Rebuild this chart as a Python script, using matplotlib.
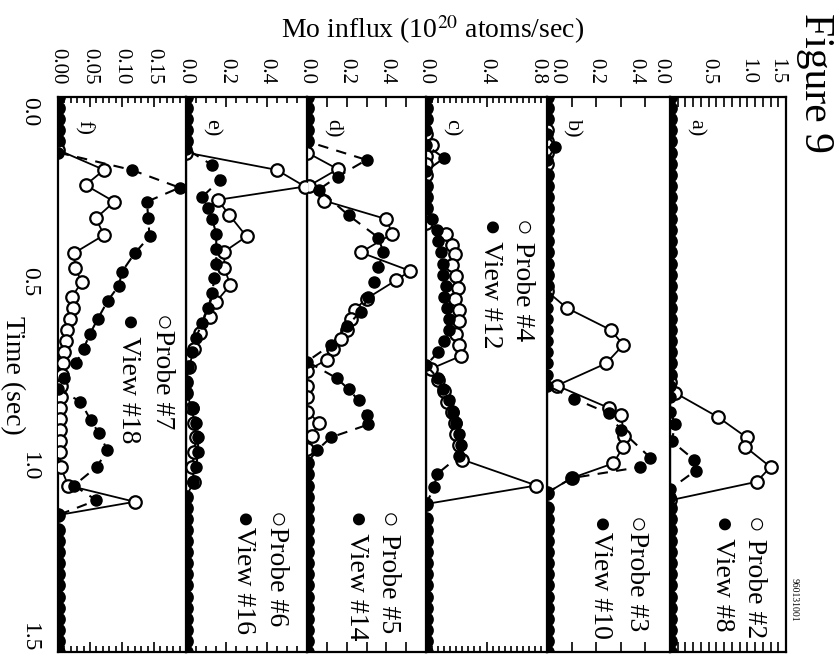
import numpy as np
import matplotlib
matplotlib.use('Agg')
import matplotlib.pyplot as plt
from matplotlib.ticker import MultipleLocator, FixedLocator

W, H = 834, 668
plt.rcParams['font.family'] = ['Liberation Serif', 'DejaVu Sans']
plt.rcParams['mathtext.fontset'] = 'stix'

# ---------------- data ----------------
T_GRID = np.round(np.arange(0.0, 1.5001, 0.03), 3)   # sampling times of the zero-level points

PANELS = ['a)', 'b)', 'c)', 'd)', 'e)', 'f)']
VMAX = [1.5, 0.5, 0.8, 0.6, 0.6, 0.2]
PROBE_LABELS = ['\u25cb Probe #2', '\u25cbProbe #3', '\u25cb Probe #4', '\u25cb Probe #5', '\u25cbProbe #6', '\u25cbProbe #7']
VIEW_LABELS = ['\u25cf View #8', '\u25cfView #10', '\u25cf View #12', '\u25cf View #14', '\u25cfView #16', '\u25cf View #18']

PROBE_A_T = [0.77, 0.80, 0.865, 0.92, 0.945, 1.00, 1.04, 1.09]
PROBE_A_V = [0.0, 0.07, 0.62, 0.99, 0.97, 1.30, 1.12, 0.0]
VIEW_A_T = [0.85, 0.885, 0.93, 0.98, 1.01, 1.06]
VIEW_A_V = [0.0, 0.07, 0.02, 0.31, 0.33, 0.0]

PROBE_B_T = [0.525, 0.57, 0.63, 0.67, 0.72, 0.78, 0.84, 0.86, 0.915, 0.945, 0.99, 1.03, 1.07]
PROBE_B_V = [0.0, 0.08, 0.26, 0.31, 0.24, 0.04, 0.25, 0.30, 0.315, 0.31, 0.27, 0.10, 0.0]
VIEW_B_T = [0.10, 0.135, 0.17, 0.78, 0.815, 0.855, 0.90, 0.975, 1.00, 1.03, 1.07]
VIEW_B_V = [0.0, 0.034, 0.0, 0.0, 0.11, 0.25, 0.30, 0.42, 0.38, 0.10, 0.0]

PROBE_C_T = [0.10, 0.13, 0.16, 0.34, 0.37, 0.40, 0.425, 0.455, 0.485, 0.515, 0.545, 0.575, 0.605,
             0.64, 0.67, 0.70, 0.735, 0.765, 0.795, 0.825, 0.85, 0.88, 0.91, 0.94, 0.98, 1.05, 1.10]
PROBE_C_V = [0.0, 0.04, 0.0, 0.0, 0.13, 0.17, 0.19, 0.17, 0.20, 0.21, 0.19, 0.22, 0.22,
             0.20, 0.22, 0.23, 0.03, 0.08, 0.12, 0.14, 0.17, 0.19, 0.20, 0.22, 0.24, 0.73, 0.0]
VIEW_C_T = [0.13, 0.165, 0.20, 0.30, 0.33, 0.36, 0.39, 0.42, 0.45, 0.48, 0.51, 0.54, 0.57, 0.60,
            0.63, 0.66, 0.69, 0.725, 0.76, 0.79, 0.82, 0.85, 0.88, 0.91, 0.94, 0.97, 1.02, 1.055, 1.10]
VIEW_C_V = [0.0, 0.12, 0.0, 0.0, 0.04, 0.07, 0.08, 0.10, 0.11, 0.11, 0.13, 0.12, 0.14, 0.155,
            0.155, 0.12, 0.08, 0.0, 0.08, 0.11, 0.155, 0.18, 0.20, 0.22, 0.23, 0.22, 0.07, 0.055, 0.0]

PROBE_D_T = [0.15, 0.195, 0.24, 0.28, 0.33, 0.37, 0.42, 0.47, 0.495, 0.545, 0.575, 0.60, 0.63,
             0.655, 0.68, 0.71, 0.74, 0.85, 0.88, 0.915, 0.95]
PROBE_D_V = [0.0, 0.155, 0.01, 0.085, 0.40, 0.43, 0.27, 0.52, 0.45, 0.30, 0.24, 0.22, 0.20,
             0.17, 0.13, 0.10, 0.0, 0.0, 0.06, 0.026, 0.0]
VIEW_D_T = [0.12, 0.17, 0.215, 0.25, 0.32, 0.38, 0.42, 0.46, 0.50, 0.54, 0.58, 0.62, 0.67, 0.715,
            0.76, 0.79, 0.82, 0.86, 0.885, 0.92, 0.955, 0.99]
VIEW_D_V = [0.0, 0.30, 0.155, 0.06, 0.21, 0.36, 0.385, 0.36, 0.34, 0.31, 0.27, 0.20, 0.12, 0.0,
            0.15, 0.21, 0.26, 0.30, 0.31, 0.12, 0.05, 0.0]

PROBE_E_T = [0.15, 0.197, 0.242, 0.278, 0.319, 0.377, 0.418, 0.463, 0.508, 0.553, 0.594, 0.638,
             0.68, 0.73, 0.77, 0.80, 0.84, 0.88, 0.92, 0.96, 1.00, 1.04, 1.08]
PROBE_E_V = [0.0, 0.45, 0.59, 0.157, 0.215, 0.30, 0.19, 0.19, 0.22, 0.15, 0.12, 0.07,
             0.04, 0.015, 0.0, 0.0, 0.03, 0.04, 0.05, 0.04, 0.03, 0.04, 0.0]
VIEW_E_T = [0.14, 0.184, 0.224, 0.27, 0.30, 0.33, 0.37, 0.41, 0.45, 0.49, 0.53, 0.57, 0.61, 0.65,
            0.69, 0.73, 0.77, 0.80, 0.84, 0.88, 0.92, 0.96, 1.00, 1.04, 1.08]
VIEW_E_V = [0.0, 0.13, 0.17, 0.08, 0.11, 0.13, 0.15, 0.15, 0.15, 0.14, 0.13, 0.11, 0.08, 0.05,
            0.03, 0.01, 0.0, 0.0, 0.035, 0.05, 0.06, 0.06, 0.05, 0.035, 0.0]

PROBE_F_T = [0.143, 0.197, 0.238, 0.283, 0.328, 0.373, 0.422, 0.463, 0.50, 0.54, 0.57, 0.60, 0.63,
             0.66, 0.69, 0.72, 0.75, 0.78, 0.81, 0.84, 0.87, 0.90, 0.93, 0.96, 1.00, 1.05, 1.094, 1.13]
PROBE_F_V = [0.0, 0.072, 0.043, 0.088, 0.059, 0.072, 0.025, 0.027, 0.037, 0.022, 0.024, 0.018, 0.014,
             0.012, 0.010, 0.008, 0.006, 0.005, 0.004, 0.003, 0.003, 0.003, 0.003, 0.003, 0.004, 0.016, 0.12, 0.0]
VIEW_F_T = [0.15, 0.197, 0.245, 0.283, 0.328, 0.377, 0.422, 0.472, 0.51, 0.55, 0.60, 0.64, 0.68,
            0.72, 0.76, 0.79, 0.823, 0.873, 0.909, 0.954, 0.999, 1.05, 1.09, 1.13]
VIEW_F_V = [0.0, 0.115, 0.19, 0.139, 0.141, 0.143, 0.12, 0.10, 0.095, 0.078, 0.062, 0.05, 0.04,
            0.028, 0.01, 0.0, 0.035, 0.051, 0.064, 0.077, 0.061, 0.025, 0.06, 0.0]

PROBES = [(PROBE_A_T, PROBE_A_V), (PROBE_B_T, PROBE_B_V), (PROBE_C_T, PROBE_C_V),
          (PROBE_D_T, PROBE_D_V), (PROBE_E_T, PROBE_E_V), (PROBE_F_T, PROBE_F_V)]
VIEWS = [(VIEW_A_T, VIEW_A_V), (VIEW_B_T, VIEW_B_V), (VIEW_C_T, VIEW_C_V),
         (VIEW_D_T, VIEW_D_V), (VIEW_E_T, VIEW_E_V), (VIEW_F_T, VIEW_F_V)]

TICK_POS = [[0, 0.5, 1.0, 1.5], [0, 0.2, 0.4], [0, 0.4, 0.8], [0, 0.2, 0.4], [0, 0.2, 0.4], [0, 0.05, 0.10, 0.15]]
TICK_LAB = [['0.0', '0.5', '1.0', '1.5'], ['0.0', '0.2', '0.4'], ['0.0', '0.4', '0.8'],
            ['0.0', '0.2', '0.4'], ['0.0', '0.2', '0.4'], ['0.00', '0.05', '0.10', '0.15']]
MINOR_STEP = [0.1, 0.1, 0.04, 0.1, 0.05, 0.01]
TIME_TICKS = [0.0, 0.5, 1.0, 1.5]
TIME_LABELS = ['0.0', '0.5', '1.0', '1.5']


def full_series(ts, vs):
    ts = np.asarray(ts, float)
    vs = np.asarray(vs, float)
    extra = []
    for g in T_GRID:
        if np.min(np.abs(ts - g)) < 0.014:
            continue
        inside = False
        for i in range(len(ts) - 1):
            if ts[i] < g < ts[i + 1] and (vs[i] > 0 or vs[i + 1] > 0):
                inside = True
                break
        if not inside:
            extra.append(g)
    t_all = np.concatenate([ts, extra])
    v_all = np.concatenate([vs, np.zeros(len(extra))])
    o = np.argsort(t_all)
    return t_all[o], v_all[o]


# ---------------- layout (pixels) ----------------
EDGES = {'a)': (670, 786), 'b)': (547, 670), 'c)': (426, 547),
         'd)': (307, 426), 'e)': (186, 307), 'f)': (58, 186)}
TOP, BOT = 97, 652
LEG = {'a)': (755, 722, 515), 'b)': (636, 601, 515), 'c)': (523, 490, 218),
       'd)': (388, 356, 510), 'e)': (277, 243, 510), 'f)': (162, 128, 313)}

fig = plt.figure(figsize=(W / 100, H / 100), dpi=100)


def fx(x):
    return x / W


def fy(y):
    return 1 - y / H


for i, name in enumerate(PANELS):
    x0, x1 = EDGES[name]
    ax = fig.add_axes([fx(x0), fy(BOT), (x1 - x0) / W, (BOT - TOP) / H])
    ax.set_xlim(0, VMAX[i])
    ax.set_ylim(1.5, 0)
    for s in ax.spines.values():
        s.set_linewidth(1.6)

    vt, vv = full_series(*VIEWS[i])
    pt, pv = full_series(*PROBES[i])
    ax.plot(pv, pt, '-', color='black', lw=1.3, marker='o', ms=9, mfc='white',
            mec='black', mew=1.6, zorder=3)
    ax.plot(vv, vt, color='black', lw=1.5, ls=(0, (5, 4)), marker='o', ms=8,
            mfc='black', mec='black', zorder=4)

    ax.xaxis.set_major_locator(FixedLocator(TICK_POS[i]))
    ax.xaxis.set_minor_locator(MultipleLocator(MINOR_STEP[i]))
    ax.set_xticklabels(TICK_LAB[i])
    ax.tick_params(axis='x', which='both', direction='in', top=True, bottom=True,
                   labeltop=True, labelbottom=False, width=1.2, pad=9)
    ax.tick_params(axis='x', which='major', length=7)
    ax.tick_params(axis='x', which='minor', length=4 if MINOR_STEP[i] < 0.1 else 7)
    for lab in ax.get_xticklabels():
        lab.set_rotation(-90)
        lab.set_fontsize(15)
        lab.set_va('bottom')
        lab.set_ha('center')
    labs = ax.get_xticklabels()
    if name == 'c)':
        labs[-1].set_ha('right')
    if name == 'b)':
        labs[0].set_ha('left')
        labs[-1].set_ha('right')
    if name == 'a)':
        labs[0].set_ha('right')
        labs[-1].set_ha('right')

    if name == 'f)':
        ax.set_yticks(TIME_TICKS)
        ax.set_yticklabels(TIME_LABELS)
        ax.tick_params(axis='y', length=0, pad=13, labelsize=17)
        ylabs = ax.get_yticklabels()
        for lab in ylabs:
            lab.set_rotation(-90)
            lab.set_va('center')
            lab.set_ha('right')
        ylabs[0].set_va('top')
        ylabs[-1].set_va('bottom')
    else:
        ax.set_yticks([])

    fig.text(fx(x0 + 25), fy(128), name, rotation=-90, ha='center', va='center', fontsize=16)
    px, vx, ytop = LEG[name]
    fig.text(fx(px), fy(ytop), PROBE_LABELS[i], rotation=-90, ha='center', va='top', fontsize=20)
    fig.text(fx(vx), fy(ytop), VIEW_LABELS[i], rotation=-90, ha='center', va='top', fontsize=20)

fig.text(fx(433), fy(30), 'Mo influx (10$^{20}$ atoms/sec)', ha='center', va='center', fontsize=20)
fig.text(fx(12), fy(375), 'Time (sec)', rotation=-90, ha='center', va='center', fontsize=20)
fig.text(fx(815), fy(153), 'Figure 9', rotation=-90, ha='center', va='bottom', fontsize=30)
fig.text(fx(794), fy(600), '960131001', rotation=-90, ha='center', va='center', fontsize=7)

fig.savefig('out.png', dpi=100)
